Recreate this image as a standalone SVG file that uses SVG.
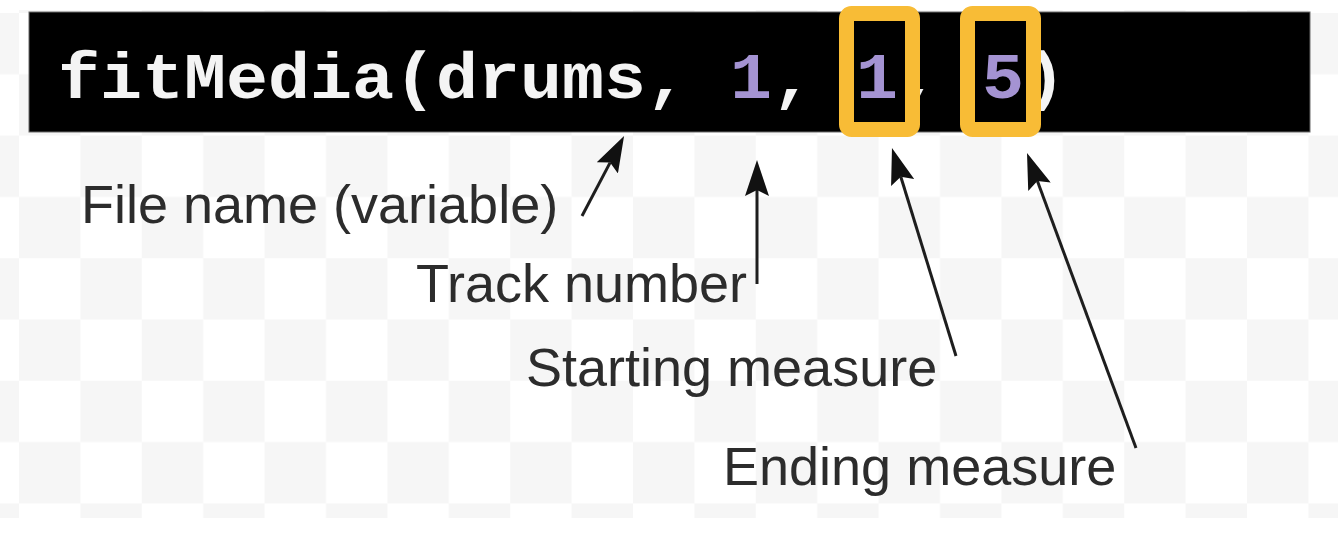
<svg xmlns="http://www.w3.org/2000/svg" width="1338" height="552" viewBox="0 0 1338 552">
  <style>
    .code { font-family: "Liberation Mono", "DejaVu Sans Mono", monospace; font-weight: bold; font-size: 70px; fill: #f4f4f4; }
    .num { fill: #a493d2; }
    .label { font-family: "Liberation Sans", Arial, sans-serif; font-size: 54px; fill: #2c2c2c; }
    .hl { fill: none; stroke: #f8bc36; stroke-width: 15; }
    .conn { fill: none; stroke: #1e1e1e; stroke-width: 3; marker-end: url(#arrow); }
  </style>
  <defs>
    <pattern id="checker" patternUnits="userSpaceOnUse" x="19" y="13" width="122.8" height="122.6">
      <rect x="61.4" y="0" width="61.4" height="61.3" fill="#f6f6f6"/>
      <rect x="0" y="61.3" width="61.4" height="61.3" fill="#f6f6f6"/>
    </pattern>
    <marker id="arrow" markerUnits="userSpaceOnUse" viewBox="0 0 36 24" refX="6" refY="12" markerWidth="36" markerHeight="24" orient="auto">
      <path d="M0,0 L36,12 L0,24 L6,12 Z" fill="#111"/>
    </marker>
  </defs>

  <g id="background">
    <rect x="0" y="0" width="1338" height="552" fill="#ffffff"/>
    <rect x="0" y="10" width="1338" height="508" fill="url(#checker)"/>
  </g>

  <g id="code">
    <rect x="29" y="12" width="1281" height="120" fill="#000000" stroke="#6a6a6a" stroke-width="1"/>
    <text class="code" x="58" y="98" transform="translate(0,98) scale(1,0.93) translate(0,-98)">fitMedia(drums, <tspan class="num">1</tspan>, <tspan class="num">1</tspan>, <tspan class="num">5</tspan>)</text>
  </g>

  <g id="highlight-start">
    <rect class="hl" x="846.5" y="13.5" width="66" height="116" rx="5"/>
  </g>
  <g id="highlight-end">
    <rect class="hl" x="967.5" y="13.5" width="66" height="116" rx="5"/>
  </g>

  <g id="label-filename">
    <text class="label" x="81" y="223">File name (variable)</text>
  </g>
  <g id="label-track">
    <text class="label" x="416" y="302">Track number</text>
  </g>
  <g id="label-start">
    <text class="label" x="526" y="386">Starting measure</text>
  </g>
  <g id="label-end">
    <text class="label" x="723" y="485">Ending measure</text>
  </g>

  <g id="connectors">
    <line class="conn" x1="582" y1="216" x2="610.1" y2="162.6"/>
    <line class="conn" x1="757" y1="284" x2="757" y2="190"/>
    <line class="conn" x1="956" y1="356" x2="900.8" y2="176.7"/>
    <line class="conn" x1="1136" y1="448" x2="1037.4" y2="181.1"/>
  </g>
</svg>
